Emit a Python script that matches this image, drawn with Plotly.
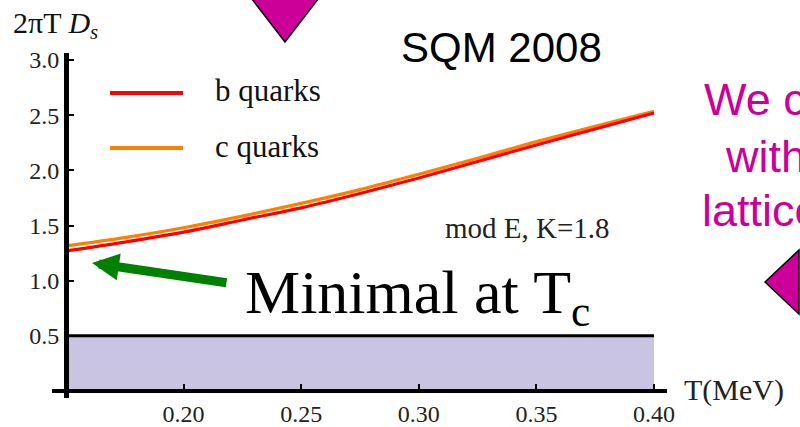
import plotly.graph_objects as go

# ---------------- data ----------------
T = [0.15, 0.175, 0.20, 0.225, 0.25, 0.275, 0.30, 0.325, 0.35, 0.375, 0.40]
b_quarks = [1.27, 1.35, 1.44, 1.55, 1.66, 1.79, 1.93, 2.08, 2.23, 2.375, 2.52]
c_quarks = [1.315, 1.39, 1.48, 1.585, 1.70, 1.825, 1.965, 2.11, 2.26, 2.40, 2.535]
band_T = [0.15, 0.40]
band_top = [0.5, 0.5]
x_ticks = [0.20, 0.25, 0.30, 0.35, 0.40]
x_labels = ["0.20", "0.25", "0.30", "0.35", "0.40"]
y_ticks = [0.5, 1.0, 1.5, 2.0, 2.5, 3.0]
y_labels = ["0.5", "1.0", "1.5", "2.0", "2.5", "3.0"]

# ---------------- layout geometry (pixels) ----------------
W, H = 800, 427
L, R, TOP, BOT = 52, 667, 53, 398          # plot area edges
PW, PH = R - L, BOT - TOP
X_RANGE = [0.14405, 0.40553]
Y_RANGE = [-0.0634, 3.0634]


def px(x):
    return (x - L) / PW


def py(y):
    return (BOT - y) / PH


SERIF = "Liberation Serif"
SANS = "Liberation Sans"
MAGENTA = "#cc0099"
RED = "#ff0000"
ORANGE = "#ff8000"

fig = go.Figure()

fig.add_trace(go.Scatter(
    x=band_T, y=band_top, fill="tozeroy", fillcolor="#c8c4e1",
    mode="lines", line=dict(color="black", width=3), showlegend=False,
    hoverinfo="skip"))
fig.add_trace(go.Scatter(
    x=T, y=c_quarks, name="c quarks", mode="lines",
    line=dict(color=ORANGE, width=3.2, shape="spline", smoothing=1.0),
    showlegend=False))
fig.add_trace(go.Scatter(
    x=T, y=b_quarks, name="b quarks", mode="lines",
    line=dict(color=RED, width=3.2, shape="spline", smoothing=1.0),
    showlegend=False))

x_pos = (0.15 - X_RANGE[0]) / (X_RANGE[1] - X_RANGE[0])
y_pos = (0 - Y_RANGE[0]) / (Y_RANGE[1] - Y_RANGE[0])

tickfont = dict(family=SERIF, size=24, color="#222")
fig.update_layout(
    width=W, height=H,
    margin=dict(l=L, r=W - R, t=TOP, b=H - BOT, pad=0, autoexpand=False),
    paper_bgcolor="white", plot_bgcolor="white",
    showlegend=False,
    xaxis=dict(range=X_RANGE, anchor="free", position=y_pos, automargin=False,
               showline=True, linecolor="black", linewidth=4,
               showgrid=False, zeroline=False,
               tickvals=x_ticks, ticktext=x_labels,
               ticks="inside", ticklen=5, tickwidth=2, tickcolor="black",
               tickfont=tickfont),
    yaxis=dict(range=Y_RANGE, anchor="free", position=x_pos, automargin=False,
               showline=True, linecolor="black", linewidth=5,
               showgrid=False, zeroline=False,
               tickvals=y_ticks, ticktext=y_labels,
               ticks="inside", ticklen=5, tickwidth=2, tickcolor="black",
               tickfont=tickfont),
)

shapes = []
# manual legend lines
shapes.append(dict(type="line", xref="paper", yref="paper",
                   x0=px(110), x1=px(183), y0=py(93), y1=py(93),
                   line=dict(color=RED, width=4)))
shapes.append(dict(type="line", xref="paper", yref="paper",
                   x0=px(110), x1=px(183), y0=py(148), y1=py(148),
                   line=dict(color=ORANGE, width=4)))
# magenta triangles
shapes.append(dict(type="path", xref="paper", yref="paper",
                   path=f"M {px(245)},{py(-10)} L {px(325)},{py(-10)} L {px(285)},{py(42)} Z",
                   fillcolor=MAGENTA, line=dict(color="black", width=1.5)))
shapes.append(dict(type="path", xref="paper", yref="paper",
                   path=f"M {px(765)},{py(282)} L {px(799)},{py(250)} L {px(799)},{py(314)} Z",
                   fillcolor=MAGENTA, line=dict(color="black", width=1.5)))
fig.update_layout(shapes=shapes)

ann = []
ann.append(dict(xref="paper", yref="paper", x=px(213), y=py(91), xanchor="left",
                yanchor="middle", text="b quarks", showarrow=False,
                font=dict(family=SERIF, size=31, color="#111")))
ann.append(dict(xref="paper", yref="paper", x=px(213), y=py(146), xanchor="left",
                yanchor="middle", text="c quarks", showarrow=False,
                font=dict(family=SERIF, size=31, color="#111")))
ann.append(dict(xref="paper", yref="paper", x=px(527), y=py(228), xanchor="center",
                yanchor="middle", text="mod E, K=1.8", showarrow=False,
                font=dict(family=SERIF, size=29, color="#222")))
ann.append(dict(xref="paper", yref="paper", x=px(11), y=py(25), xanchor="left",
                yanchor="middle", text="2πT <i>D<sub>s</sub></i>", showarrow=False,
                font=dict(family=SERIF, size=30, color="#111")))
ann.append(dict(xref="paper", yref="paper", x=px(682), y=py(390), xanchor="left",
                yanchor="middle", text="T(MeV)", showarrow=False,
                font=dict(family=SERIF, size=30, color="#222")))
ann.append(dict(xref="paper", yref="paper", x=px(501), y=py(47), xanchor="center",
                yanchor="middle", text="SQM 2008", showarrow=False,
                font=dict(family=SANS, size=42, color="black")))
ann.append(dict(xref="paper", yref="paper", x=px(243), y=py(296), xanchor="left",
                yanchor="middle", text="Minimal at T<sub>c</sub>", showarrow=False,
                font=dict(family=SERIF, size=62, color="black")))
for txt, x0, yc in [("We c", 702, 99), ("with", 723, 156), ("lattice", 700, 211)]:
    ann.append(dict(xref="paper", yref="paper", x=px(x0), y=py(yc), xanchor="left",
                    yanchor="middle", text=txt, showarrow=False,
                    font=dict(family=SANS, size=45, color=MAGENTA)))
# green arrow
ann.append(dict(xref="paper", yref="paper", x=px(92), y=py(263),
                ax=228 - 92, ay=283 - 263, axref="pixel", ayref="pixel",
                text="", showarrow=True, arrowhead=2, arrowsize=0.6,
                arrowwidth=9, arrowcolor="#008000"))
fig.update_layout(annotations=ann)

fig.write_html("out.html")
